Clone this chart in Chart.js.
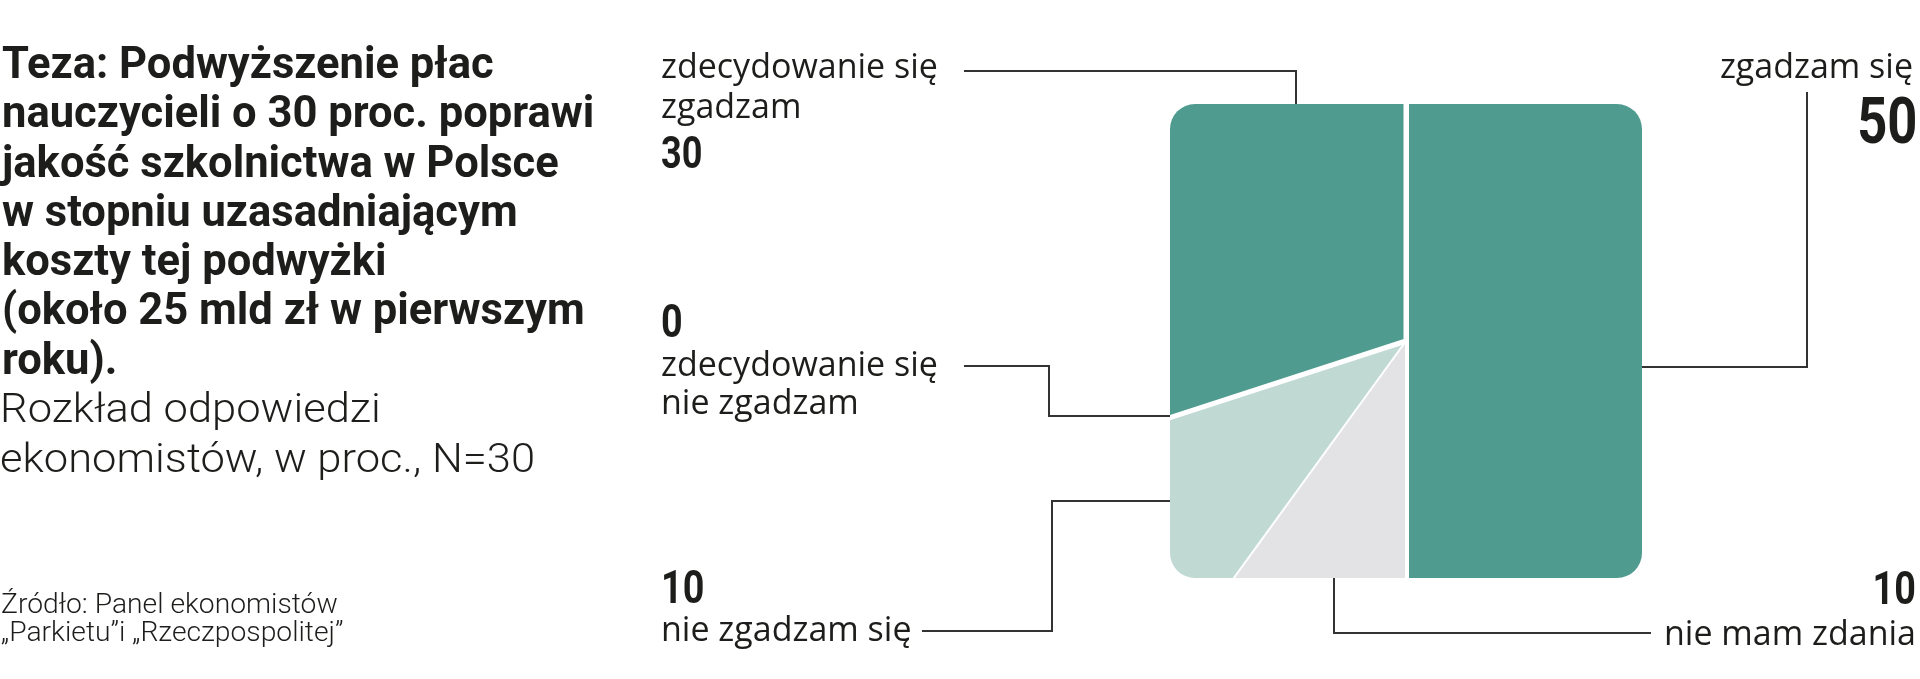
<!DOCTYPE html>
<html lang="pl">
<head>
<meta charset="utf-8">
<title>Teza: Podwyższenie płac nauczycieli</title>
<script src="https://cdn.jsdelivr.net/npm/chart.js@4.4.1/dist/chart.umd.min.js"></script>
<style>
    html, body { margin: 0; padding: 0; background: #fff; }
    body { width: 1920px; height: 679px; position: relative; overflow: hidden; font-family: Roboto, sans-serif; color: #1d1d1b; }
    #chart { position: absolute; left: 0; top: 0; }
    .t { position: absolute; white-space: nowrap; }
    .title { font-weight: 700; font-size: 45px; line-height: 49.3px; }
    .sub { font-weight: 300; font-size: 40px; line-height: 50px; }
    .src { font-weight: 300; font-size: 28px; line-height: 28px; }
    .lab { font-family: "Open Sans", sans-serif; font-size: 34px; line-height: 40px; }
    .num { font-family: Roboto, sans-serif; font-weight: 700; line-height: 1; }
    .mark { display: inline-block; width: 0; height: 0; vertical-align: baseline; }
</style>
</head>
<body>
<canvas id="chart" width="1920" height="679"></canvas>

<script>
// --- data ---
const categories = ['zgadzam się', 'nie mam zdania', 'nie zgadzam się', 'zdecydowanie się nie zgadzam', 'zdecydowanie się zgadzam'];
const shares = [50, 10, 10, 0, 30];
const sliceColors = ['#509b8f', '#e3e3e5', '#c0dad3', '#c0dad3', '#509b8f'];

const titleLines = ['Teza: Podwyższenie płac', 'nauczycieli o 30 proc. poprawi', 'jakość szkolnictwa w Polsce',
    'w stopniu uzasadniającym', 'koszty tej podwyżki', '(około 25 mld zł w pierwszym', 'roku).'];
const subtitleLines = ['Rozkład odpowiedzi', 'ekonomistów, w proc., N=30'];
const sourceLines = ['Źródło: Panel ekonomistów', '„Parkietu”i „Rzeczpospolitej”'];

// --- layout ---
const pieCenter = { x: 1406, y: 341 };
const pieRadius = 338;
const box = { w: 472, h: 474, r: 25 };

// where each category label sits (index into categories)
const labelLayout = [
    { i: 4, x: 661, textBase: 78, numBase: 168, numSize: 44, lh: 40 },
    { i: 3, x: 661, textBase: 376, numBase: 337, numSize: 46, lh: 38 },
    { i: 2, x: 661, textBase: 641, numBase: 603, numSize: 46, lh: 38 },
    { i: 0, right: 7, textBase: 78, numBase: 143, numSize: 64, lh: 40, numRight: 3 },
    { i: 1, right: 4, textBase: 645, numBase: 604, numSize: 46, lh: 40, numRight: 4 }
];

function boxEdges(c) {
    return {
        left: c.x - box.w / 2, right: c.x + box.w / 2,
        top: c.y - box.h / 2, bottom: c.y + box.h / 2
    };
}

function leaderLines(e) {
    return [
        [[964, 71], [1296, 71], [1296, e.top]],
        [[e.right, 367], [1807, 367], [1807, 92]],
        [[964, 366], [1049, 366], [1049, 416], [e.left, 416]],
        [[e.left, 501], [1052, 501], [1052, 631], [922, 631]],
        [[1334, e.bottom], [1334, 633], [1651, 633]]
    ];
}

function roundedBox(ctx, e) {
    const r = box.r;
    ctx.beginPath();
    ctx.moveTo(e.left + r, e.top);
    ctx.arcTo(e.right, e.top, e.right, e.bottom, r);
    ctx.arcTo(e.right, e.bottom, e.left, e.bottom, r);
    ctx.arcTo(e.left, e.bottom, e.left, e.top, r);
    ctx.arcTo(e.left, e.top, e.right, e.top, r);
    ctx.closePath();
}

// clip the pie to a rounded square
const squareClip = {
    id: 'squareClip',
    beforeDatasetsDraw(chart) {
        const arc = chart.getDatasetMeta(0).data[0];
        const ctx = chart.ctx;
        ctx.save();
        roundedBox(ctx, boxEdges({ x: arc.x, y: arc.y }));
        ctx.clip();
    },
    afterDatasetsDraw(chart) {
        chart.ctx.restore();
    }
};

// connector lines from the square to the labels
const leaders = {
    id: 'leaders',
    afterDraw(chart) {
        const arc = chart.getDatasetMeta(0).data[0];
        const ctx = chart.ctx;
        ctx.save();
        ctx.strokeStyle = '#333333';
        ctx.lineWidth = 2;
        leaderLines(boxEdges({ x: arc.x, y: arc.y })).forEach(function(pts) {
            ctx.beginPath();
            pts.forEach(function(p, k) {
                if (k === 0) ctx.moveTo(p[0], p[1]);
                else ctx.lineTo(p[0], p[1]);
            });
            ctx.stroke();
        });
        ctx.restore();
    }
};

new Chart(document.getElementById('chart'), {
    type: 'pie',
    data: {
        labels: categories,
        datasets: [{
            data: shares,
            backgroundColor: sliceColors,
            borderColor: '#ffffff',
            borderWidth: [6, 1, 1, 0, 5],
            borderAlign: ['center', 'inner', 'inner', 'center', 'center']
        }]
    },
    options: {
        responsive: false,
        devicePixelRatio: 1,
        animation: false,
        layout: {
            padding: {
                left: pieCenter.x - pieRadius,
                right: 1920 - pieCenter.x - pieRadius,
                top: pieCenter.y - pieRadius,
                bottom: 679 - pieCenter.y - pieRadius
            }
        },
        plugins: {
            legend: { display: false },
            tooltip: { enabled: false }
        }
    },
    plugins: [squareClip, leaders]
});

// --- text ---
function putText(html, cls, opts) {
    const el = document.createElement('div');
    el.className = 't ' + cls;
    el.innerHTML = '<span class="mark"></span>' + html;
    if (opts.size) el.style.fontSize = opts.size + 'px';
    if (opts.lh) el.style.lineHeight = opts.lh + 'px';
    if (opts.right !== undefined) {
        el.style.right = opts.right + 'px';
        el.style.textAlign = 'right';
    } else {
        el.style.left = opts.x + 'px';
    }
    el.style.top = '0px';
    document.body.appendChild(el);
    const off = el.querySelector('.mark').getBoundingClientRect().top - el.getBoundingClientRect().top;
    el.style.top = (opts.base - off) + 'px';
    const origin = opts.right !== undefined ? 'right' : 'left';
    if (opts.width) {
        el.style.transformOrigin = origin + ' center';
        el.style.transform = 'scaleX(' + (opts.width / el.offsetWidth) + ')';
    } else if (opts.sx) {
        el.style.transformOrigin = origin + ' center';
        el.style.transform = 'scaleX(' + opts.sx + ')';
    }
    return el;
}

putText(titleLines.join('<br>'), 'title', { x: 2, base: 78, width: 592 });
putText(subtitleLines.join('<br>'), 'sub', { x: 0, base: 422, width: 535 });
putText(sourceLines.join('<br>'), 'src', { x: 1, base: 613, width: 343 });

labelLayout.forEach(function(l) {
    const text = categories[l.i].replace('się ', 'się<br>');
    if (l.right !== undefined) {
        putText(text, 'lab', { right: l.right, base: l.textBase, lh: l.lh });
        putText(String(shares[l.i]), 'num', { right: l.numRight, base: l.numBase, size: l.numSize, sx: 0.82 });
    } else {
        putText(text, 'lab', { x: l.x, base: l.textBase, lh: l.lh });
        putText(String(shares[l.i]), 'num', { x: l.x, base: l.numBase, size: l.numSize, sx: 0.82 });
    }
});
</script>
</body>
</html>
